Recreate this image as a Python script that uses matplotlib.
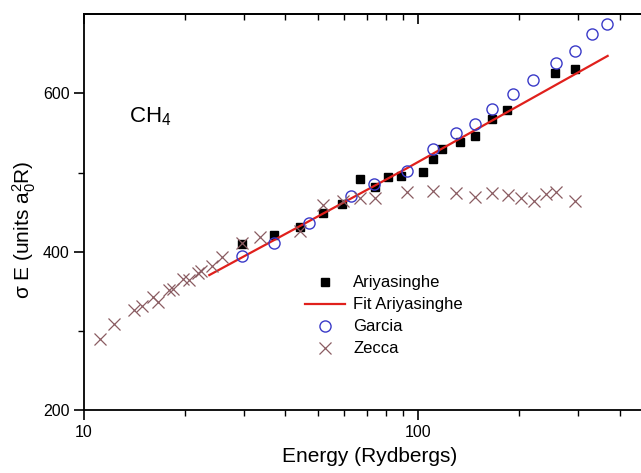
import matplotlib
matplotlib.use('Agg')
import matplotlib.pyplot as plt
from matplotlib.ticker import LogLocator, FixedLocator, NullFormatter, FixedFormatter

plt.rcParams['font.family'] = ['Liberation Sans', 'DejaVu Sans']
plt.rcParams['mathtext.fontset'] = 'custom'
plt.rcParams['mathtext.rm'] = 'Liberation Sans'
plt.rcParams['mathtext.it'] = 'Liberation Sans:italic'

# Ariyasinghe data
ariy_E = [29.7, 37.0, 44.2, 51.7, 59.2, 66.7, 74.0, 81.2, 88.5, 103.1, 110.3, 118.0,
          133.0, 147.5, 166.1, 183.8, 256.3, 293.5]
ariy_S = [409.6, 420.6, 431.4, 449.4, 460.5, 492.0, 481.6, 494.6, 495.1, 500.5, 516.7, 529.3,
          538.8, 546.3, 567.4, 578.8, 625.5, 630.2]

# fit to Ariyasinghe
fit_E = [23.7, 92.0, 368.0]
fit_S = [370.5, 505.0, 647.3]

# Garcia data
garc_E = [29.6, 37.0, 47.2, 62.7, 73.9, 92.3, 110.4, 129.4, 147.7, 165.8, 191.5, 220.8,
          257.5, 293.5, 330.6, 367.3]
garc_S = [394.4, 411.5, 436.1, 470.2, 485.4, 501.8, 529.5, 549.4, 561.5, 579.7, 598.6, 616.3,
          638.5, 652.9, 675.1, 687.4]

# Zecca data
zecc_E = [11.14, 12.29, 14.11, 14.95, 16.05, 16.70, 17.98, 18.45, 19.84, 20.63, 21.88, 22.44,
          24.12, 25.94, 29.66, 33.52, 44.29, 51.9, 59.36, 66.94, 73.97, 92.5, 110.9, 129.2,
          148.0, 165.8, 184.8, 203.1, 221.5, 240.5, 258.0, 294.1]
zecc_S = [289.6, 308.6, 325.9, 331.3, 342.7, 336.7, 351.1, 352.4, 365.7, 364.1, 372.6, 375.3,
          382.4, 393.2, 410.9, 418.1, 426.3, 458.8, 464.3, 468.3, 468.3, 475.6, 476.3, 473.6,
          469.7, 474.4, 471.1, 468.3, 464.5, 473.1, 475.3, 464.5]

fig = plt.figure(figsize=(6.41, 4.73), dpi=100)
ax = fig.add_axes([0.131, 0.133, 0.869, 0.837])

ax.plot(ariy_E, ariy_S, ls='none', marker='s', ms=5.5, color='black', label='Ariyasinghe')
ax.plot(fit_E, fit_S, color='#e0201c', lw=1.6, label='Fit Ariyasinghe')
ax.plot(garc_E, garc_S, ls='none', marker='o', ms=8, mfc='none', mec='#3a3ac8', mew=1.0,
        label='Garcia')
ax.plot(zecc_E, zecc_S, ls='none', marker='x', ms=8, color='#8a5c62', mew=0.9, label='Zecca')

ax.set_xscale('log')
ax.set_xlim(10, 463)
ax.set_ylim(200, 700)

ax.xaxis.set_major_locator(FixedLocator([10, 100]))
ax.xaxis.set_major_formatter(FixedFormatter(['10', '100']))
ax.xaxis.set_minor_locator(LogLocator(base=10, subs=range(2, 10)))
ax.xaxis.set_minor_formatter(NullFormatter())
ax.set_yticks([200, 400, 600])
ax.set_yticks([300, 500], minor=True)

ax.spines['right'].set_visible(False)
for s in ['left', 'bottom', 'top']:
    ax.spines[s].set_linewidth(1.3)

ax.tick_params(axis='both', which='major', labelsize=11.5, width=1.2, length=7, direction='out')
ax.tick_params(axis='both', which='minor', width=1.0, length=4, direction='out')

# top ticks point into the axes
sec = ax.secondary_xaxis('top')
sec.xaxis.set_major_locator(FixedLocator([10, 100]))
sec.xaxis.set_minor_locator(LogLocator(base=10, subs=range(2, 10)))
sec.xaxis.set_major_formatter(NullFormatter())
sec.xaxis.set_minor_formatter(NullFormatter())
sec.tick_params(which='major', direction='in', length=7, width=1.2)
sec.tick_params(which='minor', direction='in', length=4, width=1.0)
sec.spines['top'].set_linewidth(1.3)

ax.set_xlabel('Energy (Rydbergs)', fontsize=15)
ax.xaxis.set_label_coords(0.512, -0.093)
ax.set_ylabel(r'σ E (units $\mathrm{a}_0^2$R)', fontsize=15)
ax.yaxis.set_label_coords(-0.083, 0.455)

ax.text(0.08, 0.74, r'CH$_4$', transform=ax.transAxes, fontsize=16, ha='left', va='center')

ax.legend(loc='upper left', bbox_to_anchor=(0.37, 0.378), frameon=False, fontsize=12,
          handlelength=2.4, labelspacing=0.42, handletextpad=0.5)

fig.savefig('out.png', dpi=100)
